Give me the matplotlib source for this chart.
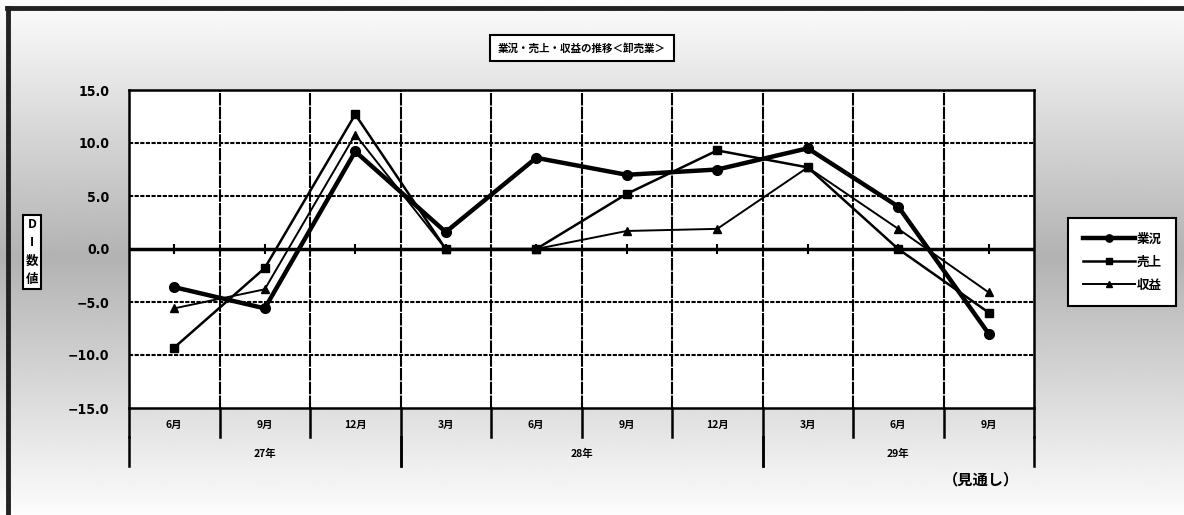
import numpy as np
import matplotlib
matplotlib.use('Agg')
import matplotlib.pyplot as plt
from matplotlib.lines import Line2D
from matplotlib.transforms import blended_transform_factory

plt.rcParams['font.family'] = ['Noto Sans CJK JP', 'DejaVu Sans']
plt.rcParams['font.weight'] = 'bold'

# 四半期ごとのDI値
months = ['6月', '9月', '12月', '3月', '6月', '9月', '12月', '3月', '6月', '9月']
years = ['27年', '28年', '29年']
year_spans = [(0, 2), (3, 6), (7, 9)]
gyoukyou = [-3.6, -5.6, 9.2, 1.6, 8.6, 7.0, 7.5, 9.5, 4.0, -8.0]
uriage = [-9.3, -1.8, 12.7, 0.0, 0.0, 5.2, 9.3, 7.7, 0.0, -6.0]
shueki = [-5.6, -3.8, 10.8, 0.0, 0.0, 1.7, 1.9, 7.7, 1.9, -4.1]
yticks = [-15, -10, -5, 0, 5, 10, 15]
yticklabels = ['−15.0', '−10.0', '−5.0', '0.0', '5.0', '10.0', '15.0']

W, H = 1184, 515
fig = plt.figure(figsize=(W / 100, H / 100), dpi=100)

# 背景のグラデーション(上下が白、中央が灰色)
bg = fig.add_axes([0, 0, 1, 1], zorder=-10)
yy = np.linspace(0, 1, 300)
shade = 0.99 - 0.29 * (1 - np.abs(yy - 0.5) * 2)
bg.imshow(np.repeat(shade[:, None], 2, axis=1), cmap='gray', vmin=0, vmax=1,
          aspect='auto', extent=[0, 1, 0, 1], origin='lower')
bg.set_xlim(0, 1)
bg.set_ylim(0, 1)
bg.axis('off')

# 外枠(上と左)
fig.add_artist(Line2D([7 / W, 1], [1 - 8 / H, 1 - 8 / H], color='#222222', lw=3.5,
                      transform=fig.transFigure))
fig.add_artist(Line2D([7.5 / W, 7.5 / W], [0, 1 - 8 / H], color='#222222', lw=3.5,
                      transform=fig.transFigure))

ax = fig.add_axes([129 / W, 1 - 408 / H, 905 / W, 318 / H])
ax.set_facecolor('white')
x = np.arange(len(months))

ax.set_xlim(-0.5, len(months) - 0.5)
ax.set_ylim(-15, 15)
ax.set_yticks(yticks)
ax.set_yticklabels(yticklabels, family=['DejaVu Sans'], stretch='condensed',
                   fontsize=10, fontweight='bold')
ax.tick_params(axis='y', length=0, pad=14)
ax.set_xticks([])
for s in ax.spines.values():
    s.set_linewidth(1.8)

for v in yticks[1:-1]:
    if v == 0:
        continue
    ax.axhline(v, color='black', lw=1.5, ls=(0, (2, 0.7)), zorder=1)
for b in np.arange(0.5, len(months) - 0.5):
    ax.axvline(b, color='black', lw=1.5, ls=(0, (6, 0.6)), zorder=1)
ax.axhline(0, color='black', lw=2.5, zorder=2)
ax.plot(x, np.zeros(len(x)), ls='none', marker='|', ms=7, mew=1.5, color='black', zorder=2)

ax.plot(x, gyoukyou, color='black', lw=3.2, marker='o', ms=7, label='業況', zorder=5)
ax.plot(x, uriage, color='black', lw=1.8, marker='s', ms=6, label='売上', zorder=4)
ax.plot(x, shueki, color='black', lw=1.4, marker='^', ms=6, label='収益', zorder=3)

# 横軸の区分ラベル
tr = blended_transform_factory(ax.transData, fig.transFigure)
for i, m in enumerate(months):
    ax.text(i, 1 - 425 / H, m, transform=tr, ha='center', va='center', fontsize=7.5,
            fontweight='bold')
for b in np.arange(-0.5, len(months)):
    ax.add_line(Line2D([b, b], [1 - 408 / H, 1 - 437 / H], transform=tr, color='black',
                       lw=1.8, clip_on=False))
for (a, c), yname in zip(year_spans, years):
    ax.text((a + c) / 2, 1 - 454 / H, yname, transform=tr, ha='center', va='center',
            fontsize=7.5, fontweight='bold')
    for b in (a - 0.5, c + 0.5):
        ax.add_line(Line2D([b, b], [1 - 437 / H, 1 - 466 / H], transform=tr, color='black',
                           lw=1.8, clip_on=False))

fig.text(981 / W, 1 - 479 / H, '（見通し）', ha='center', va='center', fontsize=11,
         fontweight='bold')

fig.text(582 / W, 1 - 48 / H, '業況・売上・収益の推移＜卸売業＞', ha='center', va='center',
         fontsize=7.6, fontweight='bold', style='italic',
         bbox=dict(boxstyle='square,pad=0.75', fc='white', ec='black', lw=1.5))

fig.text(32 / W, 1 - 252 / H, 'D\nI\n数\n値', ha='center', va='center', fontsize=9,
         fontweight='bold', linespacing=1.55,
         bbox=dict(boxstyle='square,pad=0.25', fc='white', ec='black', lw=1.5))

leg = fig.legend(loc='center', bbox_to_anchor=(1122 / W, 1 - 262 / H),
                 frameon=True, fancybox=False, edgecolor='black', facecolor='white',
                 framealpha=1, handlelength=4.2, labelspacing=0.8, borderpad=1.15,
                 handletextpad=0.1, markerscale=0.75, borderaxespad=0,
                 prop={'weight': 'bold', 'size': 9})
leg.get_frame().set_linewidth(1.5)

fig.savefig('out.png', dpi=100)
